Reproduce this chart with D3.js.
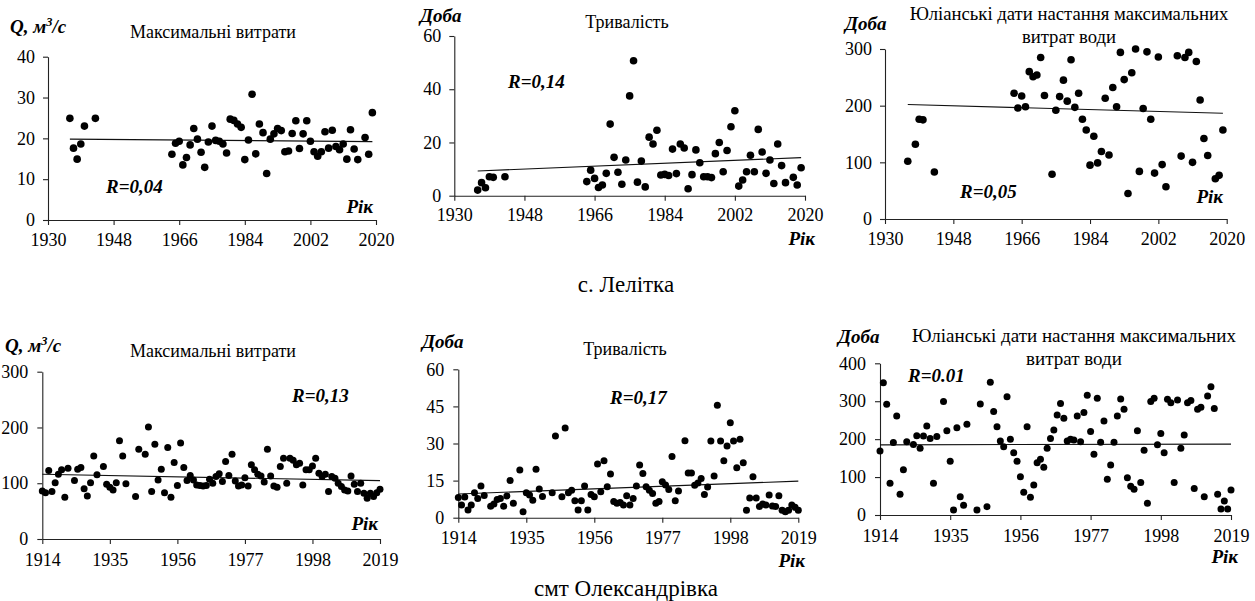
<!DOCTYPE html>
<html>
<head>
<meta charset="utf-8">
<script src="https://cdn.jsdelivr.net/npm/d3@7"></script>
<style>
  body { margin: 0; background: #fff; }
  svg { display: block; font-family: "Liberation Serif", "DejaVu Serif", serif; }
  svg text { font-family: "Liberation Serif", "DejaVu Serif", serif; fill: #000; }
</style>
</head>
<body>
<svg id="chart" width="1255" height="601"></svg>
<script>
// ---------- с. Лелітка ----------
const lelitkaYears = [1936,1937,1938,1939,1940,1943,
  1964,1965,1966,1967,1968,1969,1970,1971,1972,1973,1974,1975,1976,1977,1978,1979,
  1980,1981,1982,1983,1984,1985,1986,1987,1988,1989,1990,1991,1992,1993,1994,1995,
  1996,1997,1998,1999,2000,2001,2002,2003,2004,2005,2006,2007,2008,2009,2010,2011,
  2012,2013,2014,2015,2017,2018,2019];
const lelitkaMaxQ = [24.9,17.6,14.9,18.6,23.0,24.9,
  16.1,18.8,19.3,13.5,15.3,18.4,22.4,19.8,16.6,12.9,19.1,23.0,19.5,19.3,18.6,16.4,
  24.7,24.4,23.5,22.7,14.8,19.6,30.8,16.2,23.5,21.4,11.4,19.8,21.1,22.4,21.9,16.7,
  16.9,21.2,24.3,17.5,21.1,24.3,19.3,16.7,15.6,16.7,21.6,17.6,22.0,18.0,17.2,18.6,
  14.9,22.1,17.4,14.8,20.2,16.1,26.3];
const lelitkaDuration = [2.1,4.9,3.0,7.1,6.9,7.1,
  5.3,9.6,6.5,3.1,4.0,8.4,26.9,14.4,8.8,4.3,13.4,37.5,50.7,5.1,13.0,3.3,
  22.0,19.4,24.6,7.8,8.0,7.6,17.5,8.3,19.4,17.9,2.6,7.9,17.2,12.4,7.1,7.1,
  6.8,15.8,20.0,9.0,17.0,25.9,31.9,3.6,5.9,9.0,15.2,9.0,24.9,16.4,8.4,13.4,
  4.6,19.4,11.3,4.9,6.9,4.0,10.5];
const lelitkaDateYears = [1936,1938,1939,1940,1943,
  1964,1965,1966,1967,1968,1969,1970,1971,1972,1974,1975,1976,1977,1978,1979,
  1980,1981,1982,1983,1984,1985,1986,1987,1988,1989,1990,1991,1992,1993,1994,1995,
  1996,1997,1998,1999,2000,2001,2002,2003,2004,2007,2008,2009,2010,2011,
  2012,2013,2014,2015,2017,2018,2019];
const lelitkaDate = [102,132,176,175,83,
  222,196,217,198,260,251,254,285,218,79,192,216,245,208,281,
  197,222,176,157,95,146,99,119,213,113,232,198,294,246,45,258,
  300,84,195,295,176,81,286,96,57,288,111,285,294,100,
  278,210,142,112,71,77,157];

// ---------- смт Олександрівка ----------
const oleksMaxQYears = [1914,1915,1916,1917,1918,1919,1920,1921,1922,1924,1925,1926,1927,1928,1929,
  1930,1931,1933,1934,1935,1936,1937,1938,1939,1940,1943,1944,1946,1947,1948,1949,
  1950,1951,1952,1953,1954,1955,1956,1957,1958,1959,1960,1961,1962,1963,1964,1965,1966,1967,
  1968,1969,1970,1971,1972,1973,1974,1975,1976,1977,1978,1979,1980,1981,1982,1983,1984,
  1985,1986,1987,1988,1989,1990,1991,1992,1993,1994,1995,1996,1997,1998,1999,2000,
  2001,2002,2003,2004,2005,2006,2007,2008,2009,2010,2011,2012,2013,2014,2015,2016,
  2017,2018,2019];
const oleksMaxQ = [86,83,123,85,101,116,124,75,127,105,125,128,90,77,101,
  149,115,130,98,93,88,101,176,149,99,76,161,152,201,85,170,
  106,125,83,164,75,137,96,172,128,105,114,106,97,96,95,96,107,100,
  112,117,103,139,114,152,104,95,97,110,95,133,124,116,113,102,161,
  113,95,93,130,145,100,145,141,133,136,97,124,124,131,145,118,
  112,116,85,112,109,100,94,88,86,113,98,85,100,82,73,82,
  76,83,89];
const oleksDurYears = [1914,1915,1916,1917,1918,1919,1920,1921,1922,1924,1925,1926,1927,1928,1929,
  1930,1931,1933,1934,1935,1936,1937,1938,1939,1940,1943,1944,1946,1947,1948,1949,
  1950,1951,1952,1953,1954,1955,1956,1957,1958,1959,1960,1961,1962,1963,1964,1965,1966,1967,
  1968,1969,1970,1971,1972,1973,1974,1975,1976,1977,1978,1979,1980,1981,1982,1984,
  1985,1986,1987,1988,1989,1990,1991,1992,1993,1994,1995,1996,1997,1998,1999,2000,
  2001,2002,2003,2004,2005,2006,2007,2008,2009,2010,2011,2012,2013,2014,2015,2016,
  2017,2018,2019];
const oleksDuration = [8.2,5.1,8.4,3.1,5.1,10.1,7.8,12.8,9.0,4.6,5.5,7.4,7.8,4.6,8.8,
  15.0,5.8,19.3,2.4,10.1,9.2,7.1,19.6,11.6,8.6,10.1,33.0,8.5,36.3,10.1,11.1,
  6.9,3.1,6.9,12.8,3.1,9.4,8.5,21.7,10.5,23.0,12.5,17.7,6.5,5.8,6.1,5.1,8.9,5.1,
  7.8,12.8,21.3,17.9,12.5,11.1,9.8,5.8,6.5,14.5,13.2,11.4,24.7,6.9,10.8,31.1,
  18.1,18.1,13.1,14.0,15.8,9.4,12.4,31.0,16.9,45.5,31.0,23.0,29.0,38.4,31.0,20.2,
  31.7,22.2,3.0,8.0,16.6,8.0,4.5,5.5,5.1,9.2,4.7,4.5,8.9,3.0,2.4,3.0,
  5.1,4.2,3.0];
const oleksDateYears = [1914,1915,1916,1917,1918,1919,1920,1921,1922,1924,1925,1926,1927,1928,1929,
  1930,1931,1933,1934,1935,1936,1937,1938,1939,1940,1943,1944,1946,1947,1948,1949,
  1950,1951,1952,1953,1954,1955,1956,1957,1958,1959,1960,1961,1962,1963,1964,1965,1966,1967,
  1968,1969,1970,1971,1972,1973,1974,1975,1976,1977,1978,1979,1980,1981,1982,1983,1984,
  1985,1986,1987,1988,1989,1990,1991,1992,1993,1994,1995,1996,1997,1998,1999,2000,
  2001,2002,2003,2004,2005,2006,2007,2008,2009,2010,2011,2012,2013,2014,2015,2016,
  2017,2018,2019];
const oleksDate = [169,349,292,84,191,261,55,119,193,186,209,176,208,235,202,
  84,207,299,222,142,13,230,48,26,239,13,293,22,350,273,233,
  195,180,312,200,164,142,101,60,233,47,79,138,147,126,176,202,224,264,
  294,255,195,200,198,261,193,270,316,220,160,308,192,248,94,132,192,
  261,306,279,98,76,68,222,86,171,31,299,308,185,215,164,305,
  296,86,303,176,211,296,302,70,279,284,48,314,338,281,55,16,
  37,16,66];

// linear trend end points [first year value, last year value]
const trendYearsTop = [1936, 2019];
const trendYearsBottom = [1914, 2019];
const trendLelitkaQ = [19.8, 19.2];
const trendLelitkaDur = [9.3, 14.3];
const trendLelitkaDate = [202, 186.5];
const trendOleksQ = [116, 104.6];
const trendOleksDur = [9.6, 14.8];
const trendOleksDate = [185, 187];

// axis ticks
const yearTicksTop = [1930, 1948, 1966, 1984, 2002, 2020];
const yearTicksBottom = [1914, 1935, 1956, 1977, 1998, 2019];
const ticksQTop = [0, 10, 20, 30, 40];
const ticksDurTop = [0, 20, 40, 60];
const ticksDateTop = [0, 100, 200, 300];
const ticksQBottom = [0, 100, 200, 300];
const ticksDurBottom = [0, 15, 30, 45, 60];
const ticksDateBottom = [0, 100, 200, 300, 400];

// text
const titleQ = ["Максимальні витрати"];
const titleDur = ["Тривалість"];
const titleDate = ["Юліанські дати настання максимальних", "витрат води"];
const labelQ = "Q, м";
const labelDay = "Доба";
const labelYear = "Рік";
const stationNames = ["с. Лелітка", "смт Олександрівка"];

const FONT = '"Liberation Serif", "DejaVu Serif", serif';
const svg = d3.select("#chart");

function txt(sel) {
  return sel.style("font-family", FONT).attr("fill", "#000");
}

function panel(p) {
  const g = svg.append("g");
  const x = d3.scaleLinear().domain(p.xDomain).range([p.left, p.right]);
  const y = d3.scaleLinear().domain(p.yDomain).range([p.bottom, p.top]);

  const xAxis = g.append("g")
    .attr("transform", `translate(0,${p.bottom})`)
    .call(d3.axisBottom(x).tickValues(p.xTicks).tickFormat(d3.format("d"))
      .tickSize(5).tickSizeOuter(0).tickPadding(p.xPad));
  const yAxis = g.append("g")
    .attr("transform", `translate(${p.left},0)`)
    .call(d3.axisLeft(y).tickValues(p.yTicks).tickFormat(d3.format("d"))
      .tickSize(5).tickSizeOuter(0).tickPadding(p.yPad));
  [xAxis, yAxis].forEach(a => {
    a.attr("font-family", null).attr("font-size", null);
    a.selectAll("path.domain").attr("stroke", "#222").attr("stroke-width", 1.1);
    a.selectAll(".tick line").attr("stroke", "#222").attr("stroke-width", 1.1);
    txt(a.selectAll(".tick text")).attr("font-size", p.tickFont);
  });

  // trend line
  g.append("line")
    .attr("x1", x(p.trendYears[0])).attr("y1", y(p.trend[0]))
    .attr("x2", x(p.trendYears[1])).attr("y2", y(p.trend[1]))
    .attr("stroke", "#111").attr("stroke-width", 1.1);

  // points
  g.selectAll("circle.pt").data(p.years.map((yr, i) => [yr, p.values[i]]))
    .enter().append("circle").attr("class", "pt")
    .attr("cx", d => x(d[0])).attr("cy", d => y(d[1]))
    .attr("r", p.r).attr("fill", "#000");

  // title
  p.title.forEach((t, i) => {
    txt(g.append("text")).attr("x", p.titleX).attr("y", p.titleY + i * p.titleGap)
      .attr("text-anchor", "middle").attr("font-size", p.titleFont).text(t);
  });

  // y-axis unit label
  const yl = txt(g.append("text")).attr("x", p.yLabelX).attr("y", p.yLabelY)
    .attr("font-size", p.labelFont).attr("font-weight", "bold").attr("font-style", "italic");
  if (p.unitQ) {
    yl.append("tspan").text(labelQ);
    yl.append("tspan").attr("dy", -7).attr("font-size", p.labelFont * 0.65).text("3");
    yl.append("tspan").attr("dy", 7).text("/с");
  } else {
    yl.text(labelDay);
  }

  // correlation
  txt(g.append("text")).attr("x", p.rX).attr("y", p.rY)
    .attr("font-size", p.labelFont).attr("font-weight", "bold").attr("font-style", "italic")
    .text(p.rText);

  // year label
  txt(g.append("text")).attr("x", p.rikX).attr("y", p.rikY).attr("text-anchor", "end")
    .attr("font-size", p.labelFont).attr("font-weight", "bold").attr("font-style", "italic")
    .text(labelYear);
}

const topBase = { xDomain: [1930, 2020], xTicks: yearTicksTop, trendYears: trendYearsTop,
  tickFont: 18, titleFont: 18, labelFont: 19, r: 3.8, xPad: 8, yPad: 8, titleGap: 22.7 };
const botBase = { xDomain: [1914, 2019], xTicks: yearTicksBottom, trendYears: trendYearsBottom,
  tickFont: 18, titleFont: 18, labelFont: 19, r: 3.5, xPad: 9, yPad: 9, titleGap: 23 };

panel(Object.assign({}, topBase, {
  left: 48, right: 376, top: 56.7, bottom: 220, yDomain: [0, 40], yTicks: ticksQTop,
  years: lelitkaYears, values: lelitkaMaxQ, trend: trendLelitkaQ,
  title: titleQ, titleX: 213, titleY: 38, unitQ: true, yLabelX: 10, yLabelY: 33,
  rText: "R=0,04", rX: 106, rY: 193, rikX: 373, rikY: 213 }));

panel(Object.assign({}, topBase, {
  left: 454.3, right: 805, top: 36, bottom: 195.7, yDomain: [0, 60], yTicks: ticksDurTop,
  years: lelitkaYears, values: lelitkaDuration, trend: trendLelitkaDur,
  title: titleDur, titleX: 627, titleY: 28, unitQ: false, yLabelX: 420, yLabelY: 22,
  rText: "R=0,14", rX: 508, rY: 88, rikX: 815, rikY: 245 }));

panel(Object.assign({}, topBase, {
  left: 885, right: 1226.7, top: 49, bottom: 219, yDomain: [0, 300], yTicks: ticksDateTop,
  years: lelitkaDateYears, values: lelitkaDate, trend: trendLelitkaDate,
  title: titleDate, titleFont: 18.7, titleX: 1069, titleY: 20, unitQ: false, yLabelX: 845, yLabelY: 30,
  rText: "R=0,05", rX: 960, rY: 198, rikX: 1223, rikY: 203 }));

panel(Object.assign({}, botBase, {
  left: 42.3, right: 380, top: 371.7, bottom: 539, yDomain: [0, 300], yTicks: ticksQBottom,
  years: oleksMaxQYears, values: oleksMaxQ, trend: trendOleksQ,
  title: titleQ, titleX: 213, titleY: 357, unitQ: true, yLabelX: 5, yLabelY: 352,
  rText: "R=0,13", rX: 292, rY: 402, rikX: 378, rikY: 530 }));

panel(Object.assign({}, botBase, {
  left: 458.3, right: 798.3, top: 369.3, bottom: 517.7, yDomain: [0, 60], yTicks: ticksDurBottom,
  years: oleksDurYears, values: oleksDuration, trend: trendOleksDur,
  title: titleDur, titleX: 625, titleY: 355, unitQ: false, yLabelX: 422, yLabelY: 348,
  rText: "R=0,17", rX: 610, rY: 404, rikX: 805, rikY: 567 }));

panel(Object.assign({}, botBase, {
  left: 880, right: 1231, top: 363.3, bottom: 515, yDomain: [0, 400], yTicks: ticksDateBottom,
  years: oleksDateYears, values: oleksDate, trend: trendOleksDate,
  title: titleDate, titleFont: 19, titleX: 1074, titleY: 342, unitQ: false, yLabelX: 838, yLabelY: 343,
  rText: "R=0.01", rX: 908, rY: 382, rikX: 1238, rikY: 563 }));

// station captions
txt(svg.append("text")).attr("x", 626).attr("y", 292).attr("text-anchor", "middle")
  .attr("font-size", 23).text(stationNames[0]);
txt(svg.append("text")).attr("x", 626).attr("y", 596).attr("text-anchor", "middle")
  .attr("font-size", 23).text(stationNames[1]);
</script>
</body>
</html>
